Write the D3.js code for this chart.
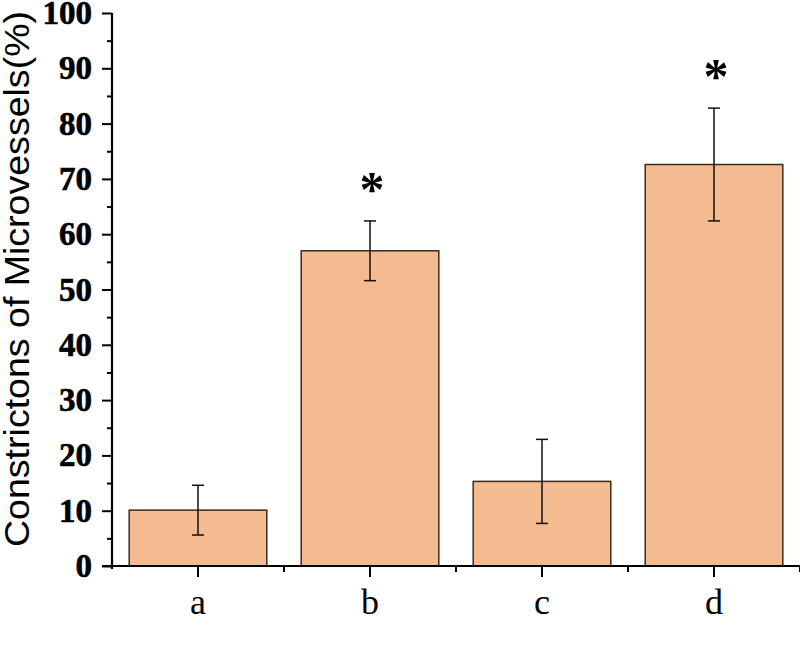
<!DOCTYPE html>
<html>
<head>
<meta charset="utf-8">
<script src="https://cdn.jsdelivr.net/npm/d3@7"></script>
<style>
    body { margin: 0; background: #fff; }
    .axis path, .axis line { stroke: #000; }
</style>
</head>
<body>
<div id="chart"></div>
<script>
// data
const groups = ["a", "b", "c", "d"];
const means = [10.1, 57.0, 15.3, 72.6];
const errors = [4.5, 5.4, 7.6, 10.2];
const significant = [false, true, false, true];
const yTicks = [0, 10, 20, 30, 40, 50, 60, 70, 80, 90, 100];

const width = 800, height = 670;
const margin = { top: 13, right: 0, bottom: 104, left: 112 };

let svg = d3.select("#chart").append("svg")
    .attr("width", width)
    .attr("height", height);

let g = svg.append("g")
    .attr("transform", "translate(" + margin.left + "," + margin.top + ")");

let w = width - margin.left - margin.right,
    h = height - margin.top - margin.bottom;

// scales
let x = d3.scaleBand()
    .domain(groups)
    .range([0, w])
    .paddingInner(0.2)
    .paddingOuter(0.1);

let y = d3.scaleLinear()
    .domain([0, 100])
    .range([h, 0]);

let data = groups.map((d, i) => ({ name: d, mean: means[i], err: errors[i], sig: significant[i] }));

// bars
g.selectAll(".bar")
    .data(data)
    .enter().append("rect")
    .attr("class", "bar")
    .attr("x", d => x(d.name))
    .attr("y", d => y(d.mean))
    .attr("width", x.bandwidth())
    .attr("height", d => h - y(d.mean))
    .attr("fill", "#f3bb8f")
    .attr("stroke", "#3b2a1e")
    .attr("stroke-width", 1.5);

// error bars
let cap = 6;
let eb = g.selectAll(".err")
    .data(data)
    .enter().append("g")
    .attr("class", "err")
    .attr("transform", d => "translate(" + (x(d.name) + x.bandwidth() / 2) + ",0)")
    .attr("stroke", "#111")
    .attr("stroke-width", 1.5);

eb.append("line")
    .attr("y1", d => y(d.mean - d.err))
    .attr("y2", d => y(d.mean + d.err));
eb.append("line")
    .attr("x1", -cap).attr("x2", cap)
    .attr("y1", d => y(d.mean + d.err))
    .attr("y2", d => y(d.mean + d.err));
eb.append("line")
    .attr("x1", -cap).attr("x2", cap)
    .attr("y1", d => y(d.mean - d.err))
    .attr("y2", d => y(d.mean - d.err));

// significance stars
g.selectAll(".star")
    .data(data.filter(d => d.sig))
    .enter().append("text")
    .attr("class", "star")
    .attr("x", d => x(d.name) + x.bandwidth() / 2 + 2)
    .attr("y", d => y(d.mean + d.err) - 15)
    .attr("text-anchor", "middle")
    .style("font-family", "'Liberation Serif', 'Times New Roman', serif")
    .style("font-weight", "bold")
    .style("font-size", "50px")
    .text("*");

// y axis with minor ticks
let yMinor = d3.axisLeft(y)
    .tickValues(d3.range(5, 100, 10))
    .tickSize(5)
    .tickFormat("");

let yAxis = d3.axisLeft(y)
    .tickValues(yTicks)
    .tickSize(10)
    .tickPadding(10)
    .tickSizeOuter(0);

g.append("g")
    .attr("class", "axis")
    .call(yMinor)
    .call(ax => ax.select(".domain").remove())
    .selectAll("line").attr("stroke-width", 2);

g.append("g")
    .attr("class", "y-axis axis")
    .call(yAxis)
    .call(ax => ax.select(".domain").attr("stroke-width", 2.2).attr("d", "M0,0V" + (h + 3)))
    .call(ax => ax.selectAll("line").attr("stroke-width", 2))
    .selectAll("text")
    .style("font-family", "'Liberation Serif', 'Times New Roman', serif")
    .style("font-weight", "bold")
    .style("font-size", "33px")
    .style("stroke", "#000")
    .style("stroke-width", 0.6)
    .attr("fill", "#000");

// x axis: major ticks at centers, minor ticks at band edges
let edges = groups.map(d => x(d) - x.step() * x.paddingInner() / 2).concat([w]);

let xAxisG = g.append("g")
    .attr("class", "x-axis axis")
    .attr("transform", "translate(0," + h + ")");

xAxisG.append("line")
    .attr("x1", -10).attr("x2", w)
    .attr("stroke", "#000")
    .attr("stroke-width", 2);

xAxisG.selectAll(".minor")
    .data(edges.slice(1))
    .enter().append("line")
    .attr("x1", d => d).attr("x2", d => d)
    .attr("y1", 0).attr("y2", 6)
    .attr("stroke", "#000")
    .attr("stroke-width", 2);

xAxisG.selectAll(".major")
    .data(groups)
    .enter().append("line")
    .attr("x1", d => x(d) + x.bandwidth() / 2)
    .attr("x2", d => x(d) + x.bandwidth() / 2)
    .attr("y1", 0).attr("y2", 11)
    .attr("stroke", "#000")
    .attr("stroke-width", 2);

xAxisG.selectAll(".lbl")
    .data(groups)
    .enter().append("text")
    .attr("x", d => x(d) + x.bandwidth() / 2)
    .attr("y", 48)
    .attr("text-anchor", "middle")
    .style("font-family", "'Liberation Serif', 'Times New Roman', serif")
    .style("font-size", "36px")
    .text(d => d);

// axis title
svg.append("text")
    .attr("transform", "translate(29," + 279 + ") rotate(-90)")
    .attr("text-anchor", "middle")
    .attr("textLength", 536)
    .attr("lengthAdjust", "spacingAndGlyphs")
    .style("font-family", "'Liberation Sans', Arial, sans-serif")
    .style("font-size", "35px")
    .text("Constrictons of Microvessels(%)");
</script>
</body>
</html>
